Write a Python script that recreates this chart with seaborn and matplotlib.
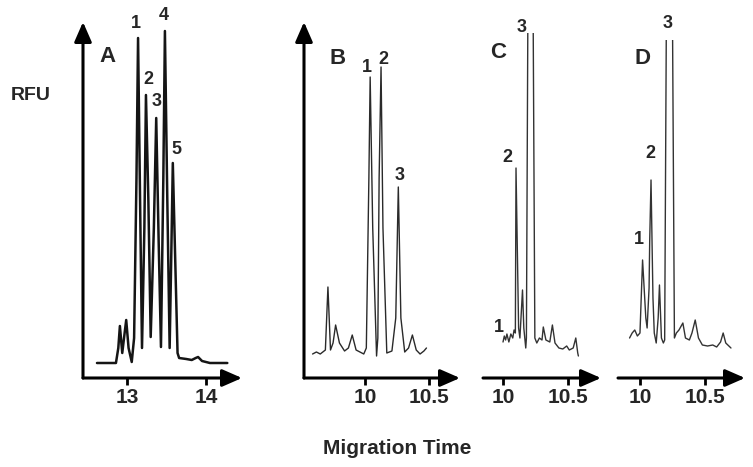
import matplotlib
matplotlib.use("Agg")
import matplotlib.pyplot as plt
import seaborn as sns
import pandas as pd

sns.set_style("white")
plt.rcParams['font.family'] = ['Liberation Sans', 'DejaVu Sans']
plt.rcParams['font.weight'] = 'bold'

# electropherogram traces (time in min, signal in arbitrary RFU)
time_a = [12.62, 12.86, 12.89, 12.91, 12.94, 12.97, 12.99, 13.02, 13.06, 13.09, 13.12, 13.14, 13.17,
          13.19, 13.22, 13.24, 13.27, 13.30, 13.34, 13.37, 13.40, 13.43, 13.46, 13.48, 13.51, 13.54,
          13.56, 13.58, 13.61, 13.64, 13.66, 13.75, 13.82, 13.87, 13.90, 13.95, 14.05, 14.27]
rfu_a = [15, 15, 30, 52, 25, 45, 58, 30, 16, 40, 200, 340, 150,
         30, 150, 283, 180, 41, 150, 260, 140, 31, 200, 347, 180, 30,
         120, 215, 120, 25, 20, 19, 18, 20, 21, 17, 15, 15]

time_b = [9.59, 9.62, 9.65, 9.69, 9.71, 9.73, 9.75, 9.77, 9.80, 9.84, 9.87, 9.90, 9.93, 9.96, 9.99,
          10.01, 10.03, 10.04, 10.06, 10.09, 10.10, 10.11, 10.125, 10.14, 10.17, 10.21, 10.24, 10.26,
          10.28, 10.31, 10.34, 10.37, 10.40, 10.43, 10.46, 10.48]
rfu_b = [24, 26, 24, 28, 91, 28, 35, 53, 35, 27, 30, 43, 28, 26, 24,
         30, 200, 301, 150, 22, 40, 200, 311, 150, 25, 27, 60, 191,
         60, 26, 30, 43, 28, 24, 27, 30]

time_c = [10.00, 10.01, 10.02, 10.03, 10.045, 10.06, 10.075, 10.085, 10.095, 10.10, 10.12, 10.13,
          10.15, 10.16, 10.175, 10.18, 10.21, 10.245, 10.26, 10.28, 10.30, 10.31, 10.33, 10.36, 10.38,
          10.40, 10.43, 10.46, 10.49, 10.51, 10.54, 10.56, 10.575, 10.58]
rfu_c = [36, 42, 38, 44, 36, 44, 40, 48, 45, 210, 50, 40,
         88, 50, 30, 40, 900, 40, 35, 40, 38, 51, 38, 36, 53,
         35, 30, 29, 32, 28, 30, 40, 25, 22]

time_d = [9.92, 9.94, 9.96, 9.98, 10.00, 10.02, 10.045, 10.055, 10.07, 10.075, 10.085, 10.10, 10.11,
          10.125, 10.14, 10.15, 10.165, 10.18, 10.19, 10.225, 10.265, 10.28, 10.30, 10.33, 10.35, 10.38,
          10.40, 10.425, 10.45, 10.48, 10.52, 10.56, 10.59, 10.62, 10.64, 10.66, 10.70]
rfu_d = [40, 45, 48, 42, 45, 118, 60, 50, 90, 138, 198, 80, 45,
         35, 60, 93, 40, 35, 38, 900, 40, 45, 48, 55, 40, 38,
         45, 58, 40, 33, 32, 33, 31, 36, 45, 35, 30]

# peak numbers: (text, time, signal)
peaks_a = [("1", 13.11, 355), ("2", 13.27, 298), ("3", 13.37, 276), ("4", 13.47, 363), ("5", 13.63, 228)]
peaks_b = [("1", 10.015, 310), ("2", 10.14, 318), ("3", 10.273, 203)]
peaks_c = [("1", 9.969, 50), ("2", 10.031, 220), ("3", 10.146, 351)]
peaks_d = [("1", 9.993, 138), ("2", 10.077, 225), ("3", 10.216, 355)]

ticks_a = [13, 14]
ticks_b = [10, 10.5]
tick_labels_a = ["13", "14"]
tick_labels_b = ["10", "10.5"]

panels = [
    # name, time, rfu, peaks, ticks, labels, rect, xlim, ylim top, yaxis, label pos, line colour, lw
    ("A", time_a, rfu_a, peaks_a, ticks_a, tick_labels_a, [83, 242, 22], (12.443, 14.456), 356, True, (12.75, 322), "#151515", 1.8),
    ("B", time_b, rfu_b, peaks_b, ticks_b, tick_labels_b, [304, 460, 22], (9.523, 10.742), 356, True, (9.789, 320), "#2a2a2a", 1.0),
    ("C", time_c, rfu_c, peaks_c, ticks_b, tick_labels_b, [483, 601, 33], (9.846, 10.754), 345, False, (9.961, 326), "#333333", 1.0),
    ("D", time_d, rfu_d, peaks_d, ticks_b, tick_labels_b, [618, 745, 40], (9.831, 10.808), 338, False, (10.023, 320), "#333333", 1.0),
]

W, H = 753, 467
base = 378
fig = plt.figure(figsize=(W / 100, H / 100), dpi=100)

for name, t, r, pk, ticks, tlabels, rect, xlim, ytop, yaxis, lpos, col, lw in panels:
    x0, x1, top = rect
    ax = fig.add_axes([x0 / W, 1 - base / H, (x1 - x0) / W, (base - top) / H])
    df = pd.DataFrame({"time": t, "rfu": r})
    sns.lineplot(data=df, x="time", y="rfu", ax=ax, color=col, lw=lw, estimator=None, sort=False)
    ax.set_xlim(*xlim)
    ax.set_ylim(0, ytop)
    ax.set_xlabel("")
    ax.set_ylabel("")
    for s in ax.spines.values():
        s.set_visible(False)
    ax.set_xticks(ticks)
    ax.set_xticklabels(tlabels, fontsize=15, fontweight="bold")
    ax.set_yticks([])
    ax.tick_params(axis="x", bottom=True, direction="out", length=5, width=2, pad=2, color="black")
    arrow = dict(arrowstyle="-|>,head_length=0.8,head_width=0.35", lw=2.2, color="black",
                 mutation_scale=15, shrinkA=0, shrinkB=0)
    ax.annotate("", xy=(1, 0), xytext=(0, 0), xycoords="axes fraction", arrowprops=arrow,
                annotation_clip=False)
    if yaxis:
        ax.annotate("", xy=(0, 1), xytext=(0, 0), xycoords="axes fraction", arrowprops=arrow,
                    annotation_clip=False)
    ax.text(lpos[0], lpos[1], name, fontsize=16, fontweight="bold", ha="center", va="center")
    for txt, px, py in pk:
        ax.text(px, py, txt, fontsize=13, fontweight="bold", ha="center", va="center", clip_on=False)

fig.text(31 / W, 1 - 96 / H, "RFU", fontsize=14, fontweight="bold", ha="center", va="center")
fig.text(397 / W, 1 - 449 / H, "Migration Time", fontsize=15, fontweight="bold", ha="center", va="center")

fig.savefig("out.png", dpi=100)
